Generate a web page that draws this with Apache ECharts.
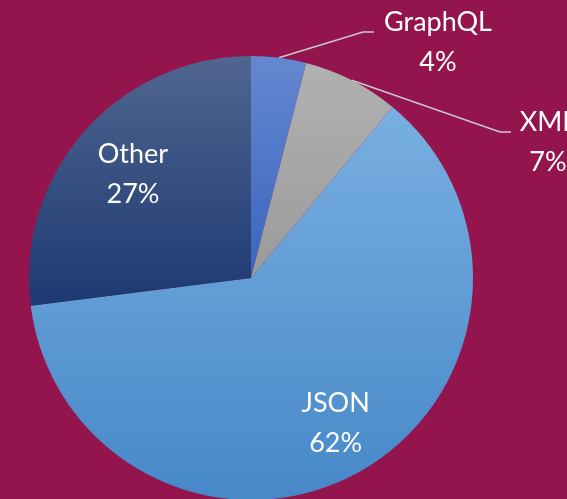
<!DOCTYPE html>
<html>
<head>
<meta charset="utf-8">
<script src="https://cdn.jsdelivr.net/npm/echarts@6/dist/echarts.min.js"></script>
<style>
  html, body { margin: 0; padding: 0; background: #94154e; }
  #chart { width: 567px; height: 499px; }
</style>
</head>
<body>
<div id="chart"></div>
<script>
var categories = ['GraphQL', 'XML', 'JSON', 'Other'];
var values = [4, 7, 62, 27];
var topColors = ['#6587d0', '#b1b1b1', '#79afe1', '#50668f'];
var bottomColors = ['#3865c0', '#9a9a9a', '#4688c8', '#1c3972'];

// outside labels: centre x and top of the text block, where the leader line turns
var outsideLabels = {
    0: { x: 438, y: 2, lineX: 363 },
    1: { x: 548, y: 102, lineX: 500 }
};
var insideScale = [null, null, 1.45, 1.38];
var pieCenter = [251, 278];

var chart = echarts.init(document.getElementById('chart'));

var data = [];
for (var i = 0; i < categories.length; i++) {
    var outside = outsideLabels[i] != null;
    data.push({
        name: categories[i],
        value: values[i],
        itemStyle: {
            color: new echarts.graphic.LinearGradient(0, 0, 0, 1, [
                { offset: 0, color: topColors[i] },
                { offset: 1, color: bottomColors[i] }
            ])
        },
        label: { position: outside ? 'outside' : 'inside' },
        labelLine: { show: outside }
    });
}

var option = {
    backgroundColor: '#94154e',
    animation: false,
    series: [{
        type: 'pie',
        center: pieCenter,
        radius: [0, 222],
        startAngle: 90,
        clockwise: true,
        avoidLabelOverlap: false,
        data: data,
        label: {
            formatter: '{b}\n{c}%',
            color: '#ffffff',
            fontFamily: 'Lato',
            fontSize: 27,
            lineHeight: 40,
            align: 'center'
        },
        labelLine: {
            length: 10,
            length2: 11,
            lineStyle: { color: '#c8c8d2', width: 1.5 }
        },
        labelLayout: function (params) {
            var o = outsideLabels[params.dataIndex];
            if (o) {
                var ly = o.y + 30;
                var p0 = params.labelLinePoints ? params.labelLinePoints[0] : [o.lineX, ly];
                return {
                    x: o.x,
                    y: o.y,
                    align: 'center',
                    verticalAlign: 'top',
                    labelLinePoints: [p0, [o.lineX, ly], [o.lineX + 11, ly]]
                };
            }
            var r = params.labelRect;
            var mx = r.x + r.width / 2 - pieCenter[0];
            var my = r.y + r.height / 2 - pieCenter[1];
            var k = insideScale[params.dataIndex] - 1;
            return {
                dx: mx * k + (params.dataIndex === 2 ? 5 : 0),
                dy: my * k
            };
        }
    }]
};
chart.setOption(option);
</script>
</body>
</html>
